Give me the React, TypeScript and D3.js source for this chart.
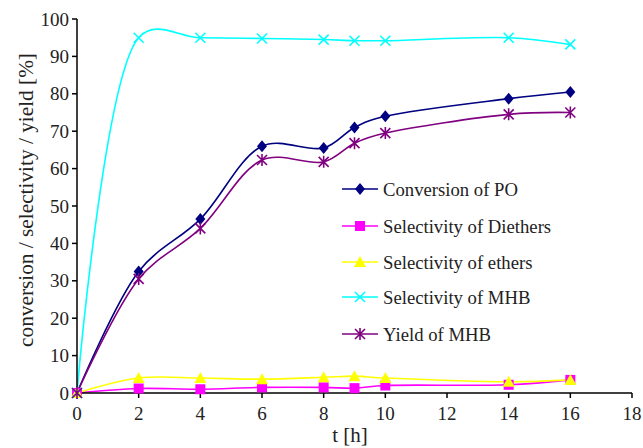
import React from 'react';
import * as d3 from 'd3';

// time points [h]
const hours = [0, 2, 4, 6, 8, 9, 10, 14, 16];

const conversionPO = [0, 32.5, 46.5, 66, 65.5, 71, 74, 78.7, 80.5];
const selDiethers = [0, 1.2, 1.0, 1.5, 1.5, 1.3, 2.0, 2.2, 3.5];
const selEthers = [0, 4.0, 4.0, 3.7, 4.2, 4.5, 4.0, 3.0, 3.5];
const selMHB = [0, 95, 95, 94.8, 94.5, 94.2, 94.2, 95, 93.2];
const yieldMHB = [0, 30.5, 44, 62.3, 61.8, 66.8, 69.5, 74.5, 75];

const seriesNames = [
  'Conversion of PO',
  'Selectivity of Diethers',
  'Selectivity of ethers',
  'Selectivity of MHB',
  'Yield of MHB',
];

const xTicks = [0, 2, 4, 6, 8, 10, 12, 14, 16, 18];
const yTicks = [0, 10, 20, 30, 40, 50, 60, 70, 80, 90, 100];

const W = 643;
const H = 448;
const margin = { top: 19, right: 11, bottom: 55, left: 77 };
const FONT = 'Liberation Serif, Times New Roman, DejaVu Serif, serif';

const series = [
  { name: seriesNames[0], values: conversionPO, color: '#000080', marker: 'diamond' },
  { name: seriesNames[1], values: selDiethers, color: '#FF00FF', marker: 'square' },
  { name: seriesNames[2], values: selEthers, color: '#FFFF00', marker: 'triangle' },
  { name: seriesNames[3], values: selMHB, color: '#00FFFF', marker: 'x' },
  { name: seriesNames[4], values: yieldMHB, color: '#800080', marker: 'star' },
];

function Marker({ kind, x, y, color }: { kind: string; x: number; y: number; color: string }) {
  const s = 5;
  if (kind === 'diamond') {
    return <path d={`M${x},${y - s - 1}L${x + s},${y}L${x},${y + s + 1}L${x - s},${y}Z`} fill={color} />;
  }
  if (kind === 'square') {
    return <rect x={x - s} y={y - s} width={2 * s} height={2 * s} fill={color} />;
  }
  if (kind === 'triangle') {
    return <path d={`M${x},${y - s - 1}L${x + s + 1},${y + s}L${x - s - 1},${y + s}Z`} fill={color} />;
  }
  if (kind === 'x') {
    return (
      <path
        d={`M${x - s},${y - s}L${x + s},${y + s}M${x - s},${y + s}L${x + s},${y - s}`}
        stroke={color}
        strokeWidth={1.6}
      />
    );
  }
  return (
    <path
      d={`M${x - s},${y - s}L${x + s},${y + s}M${x - s},${y + s}L${x + s},${y - s}M${x},${y - s - 1}L${x},${y + s + 1}`}
      stroke={color}
      strokeWidth={1.6}
    />
  );
}

export default function App() {
  const x = d3.scaleLinear().domain([0, 18]).range([margin.left, W - margin.right]);
  const y = d3.scaleLinear().domain([0, 100]).range([H - margin.bottom, margin.top]);

  const line = d3
    .line<number>()
    .x((_, i) => x(hours[i]))
    .y((d) => y(d))
    .curve(d3.curveCatmullRom.alpha(0.4));

  const x0 = x(0);
  const y0 = y(0);

  const legendX = 342;
  const legendY = [189, 226, 262, 297, 334];

  return (
    <svg width={W} height={H} style={{ position: 'absolute', left: 0, top: 0, background: '#fff' }}>
      {/* series lines */}
      {series.map((s) => (
        <path key={s.name} d={line(s.values) || ''} fill="none" stroke={s.color} strokeWidth={1.6} />
      ))}

      {/* axes */}
      <line x1={x0} x2={x(18)} y1={y0} y2={y0} stroke="#000" strokeWidth={1.5} />
      <line x1={x0} x2={x0} y1={y0} y2={y(100)} stroke="#000" strokeWidth={1.5} />
      {yTicks.map((t) => (
        <g key={'y' + t}>
          <line x1={x0 - 5} x2={x0} y1={y(t)} y2={y(t)} stroke="#000" strokeWidth={1.5} />
          <text x={x0 - 8} y={y(t)} dy="0.35em" textAnchor="end" fontSize={19} fontFamily={FONT} fill="#222">
            {t}
          </text>
        </g>
      ))}
      {xTicks.map((t) => (
        <g key={'x' + t}>
          <line x1={x(t)} x2={x(t)} y1={y0} y2={y0 + 5} stroke="#000" strokeWidth={1.5} />
          <text x={x(t)} y={y0 + 27} textAnchor="middle" fontSize={19} fontFamily={FONT} fill="#222">
            {t}
          </text>
        </g>
      ))}

      {/* markers */}
      {series.map((s) => (
        <g key={s.name + 'm'}>
          {s.values.map((v, i) => (
            <Marker key={i} kind={s.marker} x={x(hours[i])} y={y(v)} color={s.color} />
          ))}
        </g>
      ))}

      {/* axis titles */}
      <text x={350} y={442} textAnchor="middle" fontSize={21} fontFamily={FONT} fill="#222">
        t [h]
      </text>
      <text
        transform="translate(33, 200) rotate(-90)"
        textAnchor="middle"
        fontSize={21.3}
        fontFamily={FONT}
        fill="#222"
      >
        conversion / selectivity / yield [%]
      </text>

      {/* legend */}
      {series.map((s, i) => (
        <g key={s.name + 'l'}>
          <line x1={legendX} x2={legendX + 36} y1={legendY[i]} y2={legendY[i]} stroke={s.color} strokeWidth={1.6} />
          <Marker kind={s.marker} x={legendX + 18} y={legendY[i]} color={s.color} />
          <text x={legendX + 41} y={legendY[i]} dy="0.35em" fontSize={18.7} fontFamily={FONT} fill="#222">
            {s.name}
          </text>
        </g>
      ))}
    </svg>
  );
}
